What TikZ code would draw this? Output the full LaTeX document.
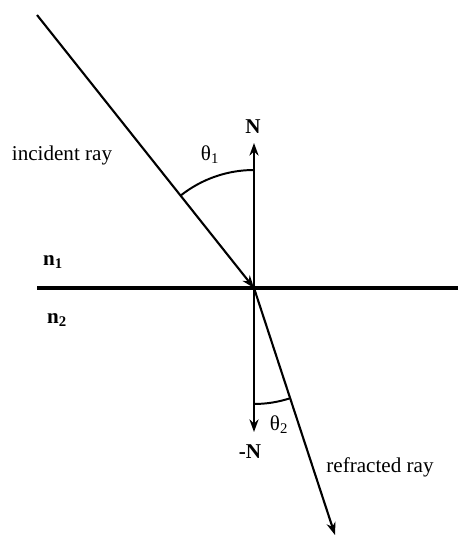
\documentclass[tikz,border=0pt]{standalone}
\usepackage{fontspec}
\setmainfont{Liberation Serif}
\usepackage{tikz}
\usetikzlibrary{arrows.meta, calc}

\begin{document}
\begin{tikzpicture}[
    x=0.025cm, y=0.025cm,
    >={Stealth[length=9pt, width=6.5pt]},
    ray/.style={line width=1.5pt},
    raytip/.style={ray, ->},
    surface/.style={line width=2.2pt},
    anglearc/.style={line width=1.4pt},
    label/.style={font=\fontsize{15}{17}\selectfont, inner sep=1pt},
    boldlabel/.style={label, font=\fontsize{15}{17}\selectfont\bfseries},
]
\useasboundingbox (0,0) rectangle (458,537);

% --- Points ---
\coordinate (O) at (254,249);
\coordinate (incstart) at (37,522);
\coordinate (ntip) at (254,394);
\coordinate (mntip) at (254,105);
\coordinate (refend) at (335,2);
\coordinate (surfleft) at (37,249);
\coordinate (surfright) at (458,249);

% --- Interface ---
\draw[surface] (surfleft) -- (surfright);

% --- Normal ---
\draw[raytip] (O) -- (ntip);
\draw[raytip] (O) -- (mntip);

% --- Rays ---
\draw[raytip] (incstart) -- (O);
\draw[raytip] (O) -- (refend);

% --- Angles ---
\draw[anglearc] ($(O)+(90:118)$) arc[start angle=90, end angle=128.5, radius=118];
\draw[anglearc] ($(O)+(-90:116)$) arc[start angle=-90, end angle=-71.8, radius=116];

% --- Labels ---
\node[boldlabel] (nlabel) at (253,410) {N};
\node[boldlabel] (mnlabel) at (250,85) {-N};
\node[label] (thetaone) at (210,382) {θ\textsubscript{1}};
\node[label] (thetatwo) at (279,112) {θ\textsubscript{2}};
\node[label] (inclabel) at (62,382) {incident ray};
\node[label] (reflabel) at (380,70) {refracted ray};
\node[boldlabel] (none) at (53,275) {n\textsubscript{1}};
\node[boldlabel] (ntwo) at (57,217) {n\textsubscript{2}};

\end{tikzpicture}
\end{document}
